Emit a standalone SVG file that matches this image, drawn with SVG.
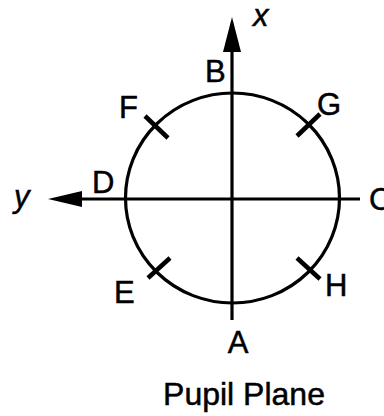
<svg xmlns="http://www.w3.org/2000/svg" width="384" height="416" viewBox="0 0 384 416">
<style>
.ln{stroke:#000;stroke-width:3.2;fill:none}
.tk{stroke:#000;stroke-width:4.5;fill:none}
.lb{font-family:"Liberation Sans",Arial,sans-serif;font-size:31px;fill:#000;stroke:#000;stroke-width:0.5}
.it{font-family:"Liberation Sans",Arial,sans-serif;font-size:31px;font-style:italic;fill:#000;stroke:#000;stroke-width:0.5}
</style>
<rect width="384" height="416" fill="#fff"/>
<g id="pupil">
<ellipse class="ln" cx="232.5" cy="198" rx="107" ry="105"/>
</g>
<g id="connectors">
<line class="ln" x1="232" y1="45" x2="232" y2="320"/>
<polygon points="232,17 241,52 223,52" fill="#000"/>
<line class="ln" x1="75" y1="199" x2="360" y2="199"/>
<polygon points="48,199 82,191 82,207" fill="#000"/>
<line class="tk" x1="145" y1="116" x2="168" y2="138"/>
<line class="tk" x1="297" y1="136" x2="320" y2="114"/>
<line class="tk" x1="148" y1="278" x2="170" y2="258"/>
<line class="tk" x1="297" y1="258" x2="320" y2="279"/>
</g>
<g id="labels">
<text class="it" x="253" y="26">x</text>
<text class="it" x="14" y="207">y</text>
<text class="lb" x="205" y="82">B</text>
<text class="lb" x="92" y="193">D</text>
<text class="lb" x="369" y="210">C</text>
<text class="lb" x="119" y="118">F</text>
<text class="lb" x="317" y="115">G</text>
<text class="lb" x="114" y="303">E</text>
<text class="lb" x="325" y="296">H</text>
<text class="lb" x="238" y="353" text-anchor="middle">A</text>
<text class="lb" x="244" y="405" text-anchor="middle" style="font-size:32px">Pupil Plane</text>
</g>
</svg>
